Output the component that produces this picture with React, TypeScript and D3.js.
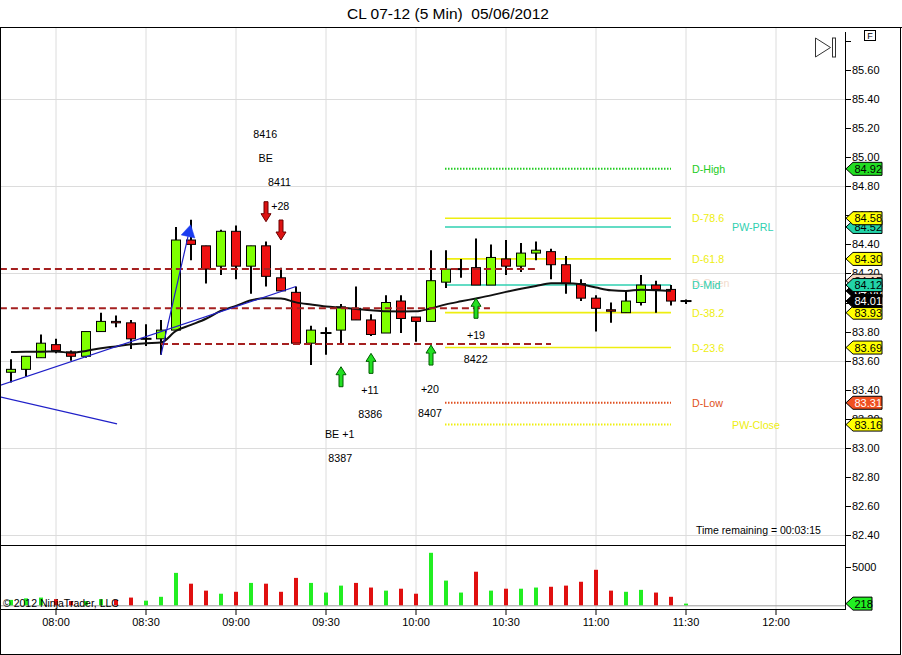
import * as d3 from "d3";

// ─── Data ─────────────────────────────────────────────────────────────────────

const opens = [83.52, 83.54, 83.62, 83.71, 83.66, 83.63, 83.8, 83.87, 83.86, 83.75, 83.75, 83.81, 84.43, 84.39, 84.25, 84.49, 84.25, 84.39, 84.17, 84.07, 83.72, 83.79, 83.81, 83.96, 83.88, 83.79, 84.01, 83.9, 83.87, 84.14, 84.23, 84.24, 84.12, 84.3, 84.25, 84.34, 84.35, 84.26, 84.13, 84.03, 83.95, 83.93, 84.0, 84.12, 84.09, 84.01];
const highs = [83.61, 83.63, 83.78, 83.75, 83.67, 83.8, 83.93, 83.91, 83.88, 83.85, 83.88, 84.52, 84.57, 84.39, 84.5, 84.53, 84.39, 84.42, 84.24, 84.11, 83.84, 83.83, 83.99, 84.11, 83.92, 84.05, 84.05, 83.9, 84.36, 84.36, 84.3, 84.44, 84.4, 84.43, 84.41, 84.42, 84.37, 84.32, 84.16, 84.05, 84.0, 84.08, 84.19, 84.15, 84.12, 84.02];
const lows = [83.45, 83.49, 83.62, 83.65, 83.6, 83.62, 83.8, 83.83, 83.68, 83.7, 83.64, 83.81, 84.29, 84.13, 84.19, 84.16, 84.06, 84.11, 84.08, 83.72, 83.57, 83.64, 83.72, 83.88, 83.77, 83.79, 83.79, 83.73, 83.87, 84.1, 84.17, 84.12, 84.12, 84.19, 84.21, 84.29, 84.16, 84.06, 84.01, 83.8, 83.86, 83.93, 83.98, 83.93, 83.98, 83.99];
const closes = [83.54, 83.63, 83.72, 83.67, 83.63, 83.8, 83.87, 83.86, 83.75, 83.75, 83.81, 84.43, 84.4, 84.23, 84.49, 84.25, 84.39, 84.18, 84.08, 83.72, 83.81, 83.79, 83.97, 83.88, 83.78, 84.0, 83.89, 83.87, 84.15, 84.23, 84.23, 84.12, 84.31, 84.25, 84.34, 84.36, 84.26, 84.13, 84.03, 83.96, 83.94, 84.01, 84.12, 84.09, 84.01, 84.01];
const volumes = [700, 900, 1000, 800, 550, 550, 800, 700, 1000, 600, 1100, 4200, 2800, 1900, 1500, 1750, 2900, 2800, 1750, 3550, 2900, 1650, 2550, 2900, 2300, 1900, 2150, 1500, 6800, 3200, 1650, 4350, 1900, 2150, 2150, 2300, 2400, 2550, 3050, 4600, 1900, 1750, 2000, 1650, 1100, 218];
// moving average (bars 0..44)
const maValues = [83.659, 83.661, 83.661, 83.663, 83.654, 83.667, 83.685, 83.698, 83.712, 83.719, 83.724, 83.805, 83.846, 83.888, 83.943, 83.977, 84.015, 84.03, 84.028, 84.001, 83.986, 83.973, 83.965, 83.956, 83.946, 83.939, 83.938, 83.939, 83.96, 83.987, 84.008, 84.028, 84.049, 84.073, 84.094, 84.114, 84.132, 84.132, 84.125, 84.103, 84.084, 84.08, 84.087, 84.085, 84.08];

const sessionStart = new Date(2012, 4, 6, 7, 45);
const sessionEnd = new Date(2012, 4, 6, 12, 0);
const timeTickLabels = ["08:00", "08:30", "09:00", "09:30", "10:00", "10:30", "11:00", "11:30", "12:00"];

const priceTicks = [82.4, 82.6, 82.8, 83.0, 83.2, 83.4, 83.6, 83.8, 84.0, 84.2, 84.4, 84.6, 84.8, 85.0, 85.2, 85.4, 85.6, 85.8];
const priceGrid = [82.4, 83.0, 83.6, 84.2, 84.8, 85.4];
const volumeTicks = [5000];

// drawings: [barIndex1, price1, barIndex2, price2]
const trendLines: [number, number, number, number][] = [
  [-0.74, 83.43, 19, 84.11],
  [-0.74, 83.35, 7.07, 83.165],
];
const arrowLine: [number, number, number, number] = [10, 83.64, 11.98, 84.535];

// dashed horizontal lines
const hLinePrices = [84.23, 83.96, 83.715];
const hLineFrom = [-0.74, -0.74, 10];
const hLineTo = [35.07, 31.93, 36];

// pivot / fib levels
const levelNames = ["D-High", "D-78.6", "PW-PRL", "D-61.8", "D-Open", "D-Mid", "D-38.2", "D-23.6", "D-Low", "PW-Close"];
const levelPrices = [84.92, 84.58, 84.52, 84.3, 84.15, 84.12, 83.93, 83.69, 83.31, 83.16];
const levelFrom = 29;
const levelTo = 44;

// trade markers
const downArrowIdx = [17, 18];
const downArrowTip = [84.556, 84.43];
const upArrowIdx = [22, 24, 28, 31];
const upArrowTip = [83.558, 83.65, 83.707, 84.029];

const noteTexts = ["8416", "BE", "8411", "+28", "+11", "8386", "BE +1", "8387", "+20", "8407", "+19", "8422"];
const noteIdx = [16.95, 16.98, 17.9, 17.95, 23.93, 23.95, 21.91, 21.95, 27.93, 27.93, 31, 30.98];
const notePrice = [85.16, 84.992, 84.831, 84.664, 83.398, 83.232, 83.095, 82.932, 83.402, 83.241, 83.776, 83.609];

// ─── Styles ───────────────────────────────────────────────────────────────────

const FONT = "'Liberation Sans', Arial, sans-serif";
const UP = "#7fff00";
const DOWN = "#ee1111";
const GRID = "#dcdcdc";
const YELLOW = "#eeee10";
const TEAL = "#2fd0b0";

const levelStyle: Record<string, { color: string; dash?: string; col: number; dy: number; tag: string; tagText: string; line: boolean }> = {
  "D-High": { color: "#22cc22", dash: "1.5,1.5", col: 0, dy: 0, tag: "#22dd22", tagText: "#000", line: true },
  "D-78.6": { color: YELLOW, col: 0, dy: 0, tag: "#ffff00", tagText: "#000", line: true },
  "PW-PRL": { color: TEAL, col: 1, dy: 0, tag: "#22d4a8", tagText: "#000", line: true },
  "D-61.8": { color: YELLOW, col: 0, dy: 0, tag: "#ffff00", tagText: "#000", line: true },
  "D-Open": { color: "#f3dccd", col: 0, dy: 2.5, tag: "#f5d8c4", tagText: "#000", line: false },
  "D-Mid": { color: TEAL, col: 0, dy: 0, tag: "#22d4a8", tagText: "#000", line: true },
  "D-38.2": { color: YELLOW, col: 0, dy: 0, tag: "#ffff00", tagText: "#000", line: true },
  "D-23.6": { color: YELLOW, col: 0, dy: 0, tag: "#ffff00", tagText: "#000", line: true },
  "D-Low": { color: "#e05020", dash: "1.5,1.5", col: 0, dy: 0, tag: "#f05020", tagText: "#fff", line: true },
  "PW-Close": { color: YELLOW, dash: "1.5,1.5", col: 1, dy: 0, tag: "#ffff00", tagText: "#000", line: true },
};

const AXIS_X = 846;
const PRICE_TOP = 27;
const PRICE_BOTTOM = 545;
const VOL_BOTTOM = 609;

function Tag({ yPos, fill, color, text, width = 29 }: { yPos: number; fill: string; color: string; text: string; width?: number }) {
  const h = 6.5;
  const x0 = AXIS_X;
  const path = `M${x0},${yPos} L${x0 + 7},${yPos - h} H${x0 + 7 + width} V${yPos + h} H${x0 + 7} Z`;
  return (
    <g>
      <path d={path} fill={fill} stroke="#000" strokeWidth={1} />
      <text x={x0 + 8.5} y={yPos + 4} fontSize={11} fill={color} fontFamily={FONT}>
        {text}
      </text>
    </g>
  );
}

export default function App() {
  const n = closes.length;
  const xIdx = d3.scaleLinear().domain([0, n - 1]).range([11, 686]);
  const xTime = d3.scaleTime().domain([sessionStart, sessionEnd]).range([11, 776]);
  const y = d3.scaleLinear().domain([82.4, 85.6]).range([535, 70]);
  const yVol = d3.scaleLinear().domain([0, 5000]).range([605.3, 566.7]);
  const fmt = d3.format(".2f");

  const timeTicks = timeTickLabels.map((s) => {
    const [h, m] = s.split(":").map(Number);
    return { label: s, x: xTime(new Date(2012, 4, 6, h, m)) };
  });

  const maPath = d3
    .line<number>()
    .x((_, i) => xIdx(i))
    .y((d) => y(d))
    .curve(d3.curveMonotoneX)(maValues);

  // arrowhead for the blue arrow line
  const ax1 = xIdx(arrowLine[0]);
  const ay1 = y(arrowLine[1]);
  const ax2 = xIdx(arrowLine[2]);
  const ay2 = y(arrowLine[3]);
  const ang = Math.atan2(ay2 - ay1, ax2 - ax1);
  const headLen = 12;
  const headW = 7;
  const bx = ax2 - headLen * Math.cos(ang);
  const by = ay2 - headLen * Math.sin(ang);
  const head = `M${ax2},${ay2} L${bx + headW * Math.sin(ang)},${by - headW * Math.cos(ang)} L${bx - headW * Math.sin(ang)},${by + headW * Math.cos(ang)} Z`;

  const lastPrice = closes[n - 1];
  const lastMa = maValues[maValues.length - 1];

  const tagOrder = ["D-High", "PW-PRL", "D-78.6", "D-61.8", "D-Open", "MA", "D-Mid", "D-38.2", "LAST", "D-23.6", "D-Low", "PW-Close"];

  return (
    <div style={{ position: "absolute", left: 0, top: 0 }}>
      <svg width={902} height={655} style={{ display: "block", background: "#fff" }} fontFamily={FONT}>
        <defs>
          <clipPath id="pricePanel">
            <rect x={0} y={PRICE_TOP} width={AXIS_X} height={PRICE_BOTTOM - PRICE_TOP} />
          </clipPath>
        </defs>
        <rect x={0} y={0} width={902} height={655} fill="#fff" />

        {/* title */}
        <text x={448} y={18.5} textAnchor="middle" fontSize={15.5} fill="#000" style={{ whiteSpace: "pre" }}>
          {"CL 07-12 (5 Min)  05/06/2012"}
        </text>

        {/* gridlines */}
        {timeTicks.map((t) => (
          <line key={t.label} x1={t.x} x2={t.x} y1={PRICE_TOP} y2={VOL_BOTTOM} stroke={GRID} strokeWidth={1} />
        ))}
        {priceGrid.map((p) => (
          <line key={p} x1={0} x2={AXIS_X} y1={Math.round(y(p)) + 0.5} y2={Math.round(y(p)) + 0.5} stroke={GRID} strokeWidth={1} />
        ))}

        <g clipPath="url(#pricePanel)">
          {/* pivot / fib level lines */}
          {levelNames.map((name, i) => {
            const st = levelStyle[name];
            if (!st.line) return null;
            return (
              <line
                key={name}
                x1={xIdx(levelFrom) - 1}
                x2={xIdx(levelTo)}
                y1={y(levelPrices[i])}
                y2={y(levelPrices[i])}
                stroke={st.color}
                strokeWidth={st.dash ? 2 : 1.6}
                strokeDasharray={st.dash}
              />
            );
          })}

          {/* candles */}
          {closes.map((c, i) => {
            const o = opens[i];
            const cx = xIdx(i);
            const top = y(Math.max(o, c));
            const bot = y(Math.min(o, c));
            const doji = Math.abs(bot - top) < 0.8;
            return (
              <g key={i}>
                <line x1={cx} x2={cx} y1={y(highs[i])} y2={y(lows[i])} stroke="#000" strokeWidth={2} />
                {doji ? (
                  <line x1={cx - 5.5} x2={cx + 5.5} y1={top} y2={top} stroke="#000" strokeWidth={2} />
                ) : (
                  <rect x={cx - 4.5} y={top} width={9} height={bot - top} fill={c >= o ? UP : DOWN} stroke="#000" strokeWidth={1} />
                )}
              </g>
            );
          })}

          {/* moving average */}
          <path d={maPath ?? ""} fill="none" stroke="#111" strokeWidth={2} />

          {/* dashed horizontal lines */}
          {hLinePrices.map((p, i) => (
            <line
              key={p}
              x1={xIdx(hLineFrom[i])}
              x2={xIdx(hLineTo[i])}
              y1={y(p)}
              y2={y(p)}
              stroke="#a52020"
              strokeWidth={2}
              strokeDasharray="7,4"
            />
          ))}

          {/* trend lines */}
          {trendLines.map((t, i) => (
            <line key={i} x1={xIdx(t[0])} y1={y(t[1])} x2={xIdx(t[2])} y2={y(t[3])} stroke="#2020c8" strokeWidth={1.2} />
          ))}
          <line x1={ax1} y1={ay1} x2={bx} y2={by} stroke="#2020c8" strokeWidth={1.2} />
          <path d={head} fill="#1a3cf0" stroke="#1a3cf0" strokeWidth={0.5} />

          {/* trade markers */}
          {downArrowIdx.map((idx, i) => {
            const cx = xIdx(idx);
            const ty = y(downArrowTip[i]);
            return (
              <path
                key={"d" + i}
                d={`M${cx - 2},${ty - 20} H${cx + 2} V${ty - 8} H${cx + 5} L${cx},${ty} L${cx - 5},${ty - 8} H${cx - 2} Z`}
                fill="#dd1111"
                stroke="#6a0000"
                strokeWidth={1}
              />
            );
          })}
          {upArrowIdx.map((idx, i) => {
            const cx = xIdx(idx);
            const ty = y(upArrowTip[i]);
            return (
              <path
                key={"u" + i}
                d={`M${cx},${ty} L${cx + 5},${ty + 8} H${cx + 2} V${ty + 20} H${cx - 2} V${ty + 8} H${cx - 5} Z`}
                fill="#22e022"
                stroke="#005a00"
                strokeWidth={1}
              />
            );
          })}

          {/* trade notes */}
          {noteTexts.map((t, i) => (
            <text
              key={i}
              x={xIdx(noteIdx[i])}
              y={y(notePrice[i]) + 4}
              textAnchor="middle"
              fontSize={10.7}
              fill="#000"
            >
              {t}
            </text>
          ))}

          {/* level labels (D-Open is drawn first so D-Mid sits over it) */}
          {["D-Open", ...levelNames.filter((d) => d !== "D-Open")].map((name) => {
            const st = levelStyle[name];
            const i = levelNames.indexOf(name);
            return (
              <text key={name} x={st.col === 0 ? 692 : 732} y={y(levelPrices[i]) + 4 + st.dy} fontSize={10.7} fill={st.color}>
                {name}
              </text>
            );
          })}

          <text x={696} y={534} fontSize={10.5} fill="#000">
            Time remaining = 00:03:15
          </text>

          {/* chart-trader icon */}
          <path d="M815.5,38 L830.5,47.5 L815.5,57 Z" fill="none" stroke="#333" strokeWidth={1} />
          <rect x={832.5} y={38} width={3} height={19} fill="none" stroke="#333" strokeWidth={1} />
        </g>

        {/* volume bars */}
        <line x1={0} x2={AXIS_X} y1={yVol(0) + 0.5} y2={yVol(0) + 0.5} stroke="#9a9a9a" strokeWidth={1} />
        {volumes.map((v, i) => (
          <rect
            key={i}
            x={xIdx(i) - 2}
            y={yVol(v)}
            width={4}
            height={yVol(0) - yVol(v)}
            fill={closes[i] >= opens[i] ? "#22ee22" : "#e01010"}
          />
        ))}
        <text x={3} y={607} fontSize={10.5} fill="#000">
          © 2012 NinjaTrader, LLC
        </text>

        {/* panel frames */}
        <line x1={0} x2={902} y1={PRICE_TOP + 0.5} y2={PRICE_TOP + 0.5} stroke="#000" strokeWidth={1} />
        <line x1={0} x2={AXIS_X} y1={PRICE_BOTTOM + 0.5} y2={PRICE_BOTTOM + 0.5} stroke="#000" strokeWidth={1} />
        <line x1={0} x2={AXIS_X} y1={VOL_BOTTOM + 0.5} y2={VOL_BOTTOM + 0.5} stroke="#000" strokeWidth={1} />
        <line x1={AXIS_X - 0.5} x2={AXIS_X - 0.5} y1={32} y2={VOL_BOTTOM + 1} stroke="#000" strokeWidth={1} />
        <rect x={0.5} y={PRICE_TOP + 0.5} width={900} height={654 - PRICE_TOP} fill="none" stroke="#000" strokeWidth={1} />

        {/* price axis */}
        {priceTicks.map((p) => (
          <g key={p}>
            <line x1={AXIS_X} x2={AXIS_X + 5} y1={Math.round(y(p)) + 0.5} y2={Math.round(y(p)) + 0.5} stroke="#000" />
            {p < 85.7 && (
              <text x={AXIS_X + 6} y={y(p) + 4} fontSize={11} fill="#000">
                {fmt(p)}
              </text>
            )}
          </g>
        ))}

        {/* volume axis */}
        {volumeTicks.map((v) => (
          <g key={v}>
            <line x1={AXIS_X} x2={AXIS_X + 5} y1={Math.round(yVol(v)) + 0.5} y2={Math.round(yVol(v)) + 0.5} stroke="#000" />
            <text x={AXIS_X + 6} y={yVol(v) + 4} fontSize={11} fill="#000">
              {v}
            </text>
          </g>
        ))}

        {/* time axis */}
        {timeTicks.map((t) => (
          <g key={t.label}>
            <line x1={t.x} x2={t.x} y1={VOL_BOTTOM} y2={VOL_BOTTOM + 6} stroke="#000" />
            <text x={t.x} y={626} textAnchor="middle" fontSize={11} fill="#000">
              {t.label}
            </text>
          </g>
        ))}

        {/* axis value tags */}
        {tagOrder.map((key) => {
          if (key === "MA") return <Tag key={key} yPos={y(lastMa)} fill="#000" color="#fff" text={fmt(lastMa)} />;
          if (key === "LAST") return <Tag key={key} yPos={y(lastPrice)} fill="#000" color="#fff" text={fmt(lastPrice)} />;
          const i = levelNames.indexOf(key);
          const st = levelStyle[key];
          return <Tag key={key} yPos={y(levelPrices[i])} fill={st.tag} color={st.tagText} text={fmt(levelPrices[i])} />;
        })}
        <Tag yPos={yVol(volumes[n - 1])} fill="#22ee22" color="#000" text={String(volumes[n - 1])} width={19} />

        {/* F box */}
        <rect x={864.5} y={30.5} width={11} height={10} fill="#fff" stroke="#000" strokeWidth={1} />
        <text x={870} y={39} textAnchor="middle" fontSize={9} fill="#000">
          F
        </text>
      </svg>
    </div>
  );
}
